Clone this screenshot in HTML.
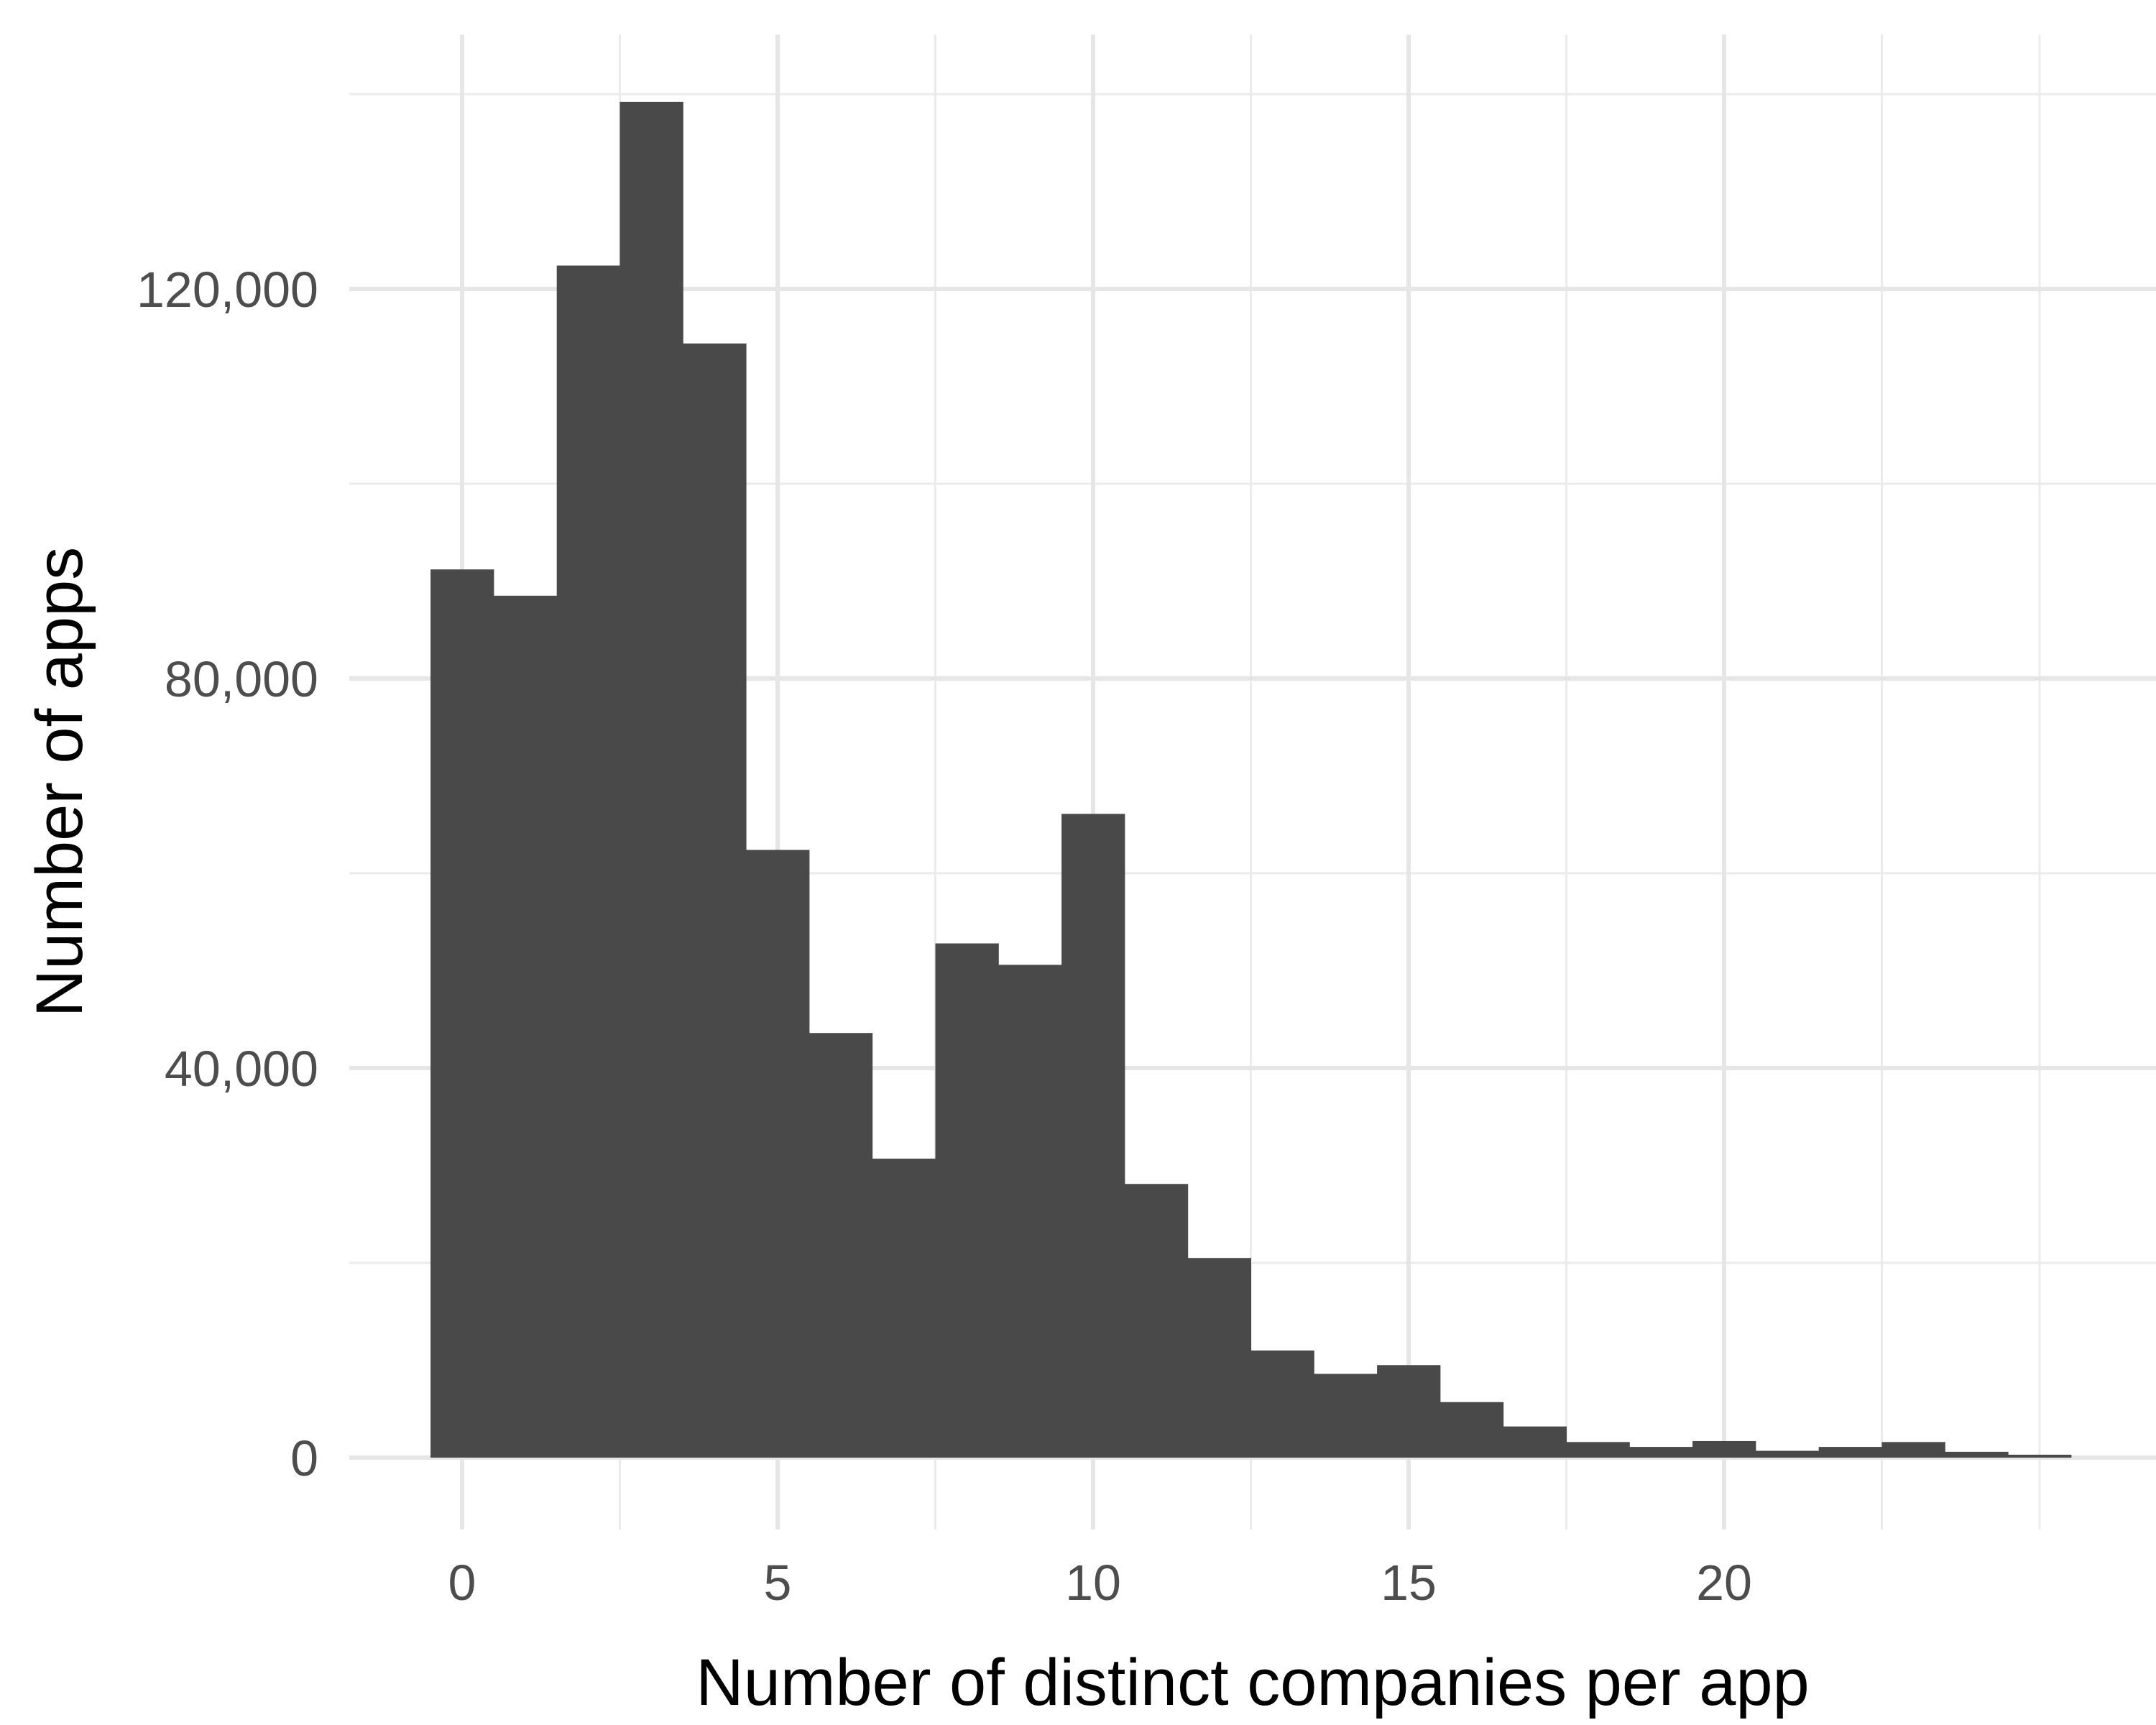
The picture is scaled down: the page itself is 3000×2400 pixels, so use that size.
<!DOCTYPE html>
<html><head><meta charset="utf-8"><style>
html,body{margin:0;padding:0;background:#fff;}
svg{display:block;font-family:"Liberation Sans",sans-serif;}
</style></head><body>
<svg id="chart" width="3000" height="2400" viewBox="0 0 3000 2400" xmlns="http://www.w3.org/2000/svg">
<g id="grid"></g>
<g id="bars"></g>
<g id="xticks"></g>
<g id="yticks"></g>
<text x="1743" y="2372" font-size="92" text-anchor="middle" fill="#000">Number of distinct companies per app</text>
<text transform="translate(114,1088) rotate(-90)" font-size="92" text-anchor="middle" fill="#000">Number of apps</text>
</svg>
<script>
const binCenters = [0,1,2,3,4,5,6,7,8,9,10,11,12,13,14,15,16,17,18,19,20,21,22,23,24,25];
const counts = [91200,88500,122400,139200,114400,62400,43600,30700,52800,50600,66100,28100,20500,11000,8600,9500,5700,3200,1600,1100,1700,700,1100,1600,600,300];
const xTickLabels = [0,5,10,15,20];
const xMinor = [2.5,7.5,12.5,17.5,22.5,25];
const yTickValues = [0,40000,80000,120000];
const yMinor = [20000,60000,100000,140000];

const X0=643, XU=87.8, Y0=2028, YU=542/40000;
const PL=486, PR=3000, PT=48, PB=2128;
const xs = v => X0 + v*XU;
const ys = v => Y0 - v*YU;
const NS="http://www.w3.org/2000/svg";
function mk(tag, attrs, parent){const e=document.createElementNS(NS,tag);for(const k in attrs)e.setAttribute(k,attrs[k]);parent.appendChild(e);return e;}
const grid=document.getElementById('grid');
yMinor.forEach(v=>{const l=mk('line',{x1:PL,x2:PR,y1:ys(v),y2:ys(v),stroke:'#ebebeb','stroke-width':3},grid);

});
xMinor.forEach(v=>{const l=mk('line',{x1:xs(v),x2:xs(v),y1:PT,y2:PB,stroke:'#ebebeb','stroke-width':3},grid);

});
yTickValues.forEach(v=>{const l=mk('line',{x1:PL,x2:PR,y1:ys(v),y2:ys(v),stroke:'#e6e6e6','stroke-width':6},grid);

});
xTickLabels.forEach(v=>{const l=mk('line',{x1:xs(v),x2:xs(v),y1:PT,y2:PB,stroke:'#e6e6e6','stroke-width':6},grid);

});
const bars=document.getElementById('bars');
binCenters.forEach((c,i)=>{const r=mk('rect',{x:xs(c-0.5),y:ys(counts[i]),width:XU+0.5,height:ys(0)-ys(counts[i]),fill:'#494949'},bars);

});
const xt=document.getElementById('xticks');
xTickLabels.forEach(v=>{const t=mk('text',{x:xs(v),y:2226,'font-size':70,'text-anchor':'middle',fill:'#4d4d4d'},xt);t.textContent=v;

});
const yt=document.getElementById('yticks');
yTickValues.forEach(v=>{const t=mk('text',{x:443,y:ys(v)+25,'font-size':70,'text-anchor':'end',fill:'#4d4d4d'},yt);t.textContent=v.toLocaleString('en-US');

});
</script>
</body></html>
